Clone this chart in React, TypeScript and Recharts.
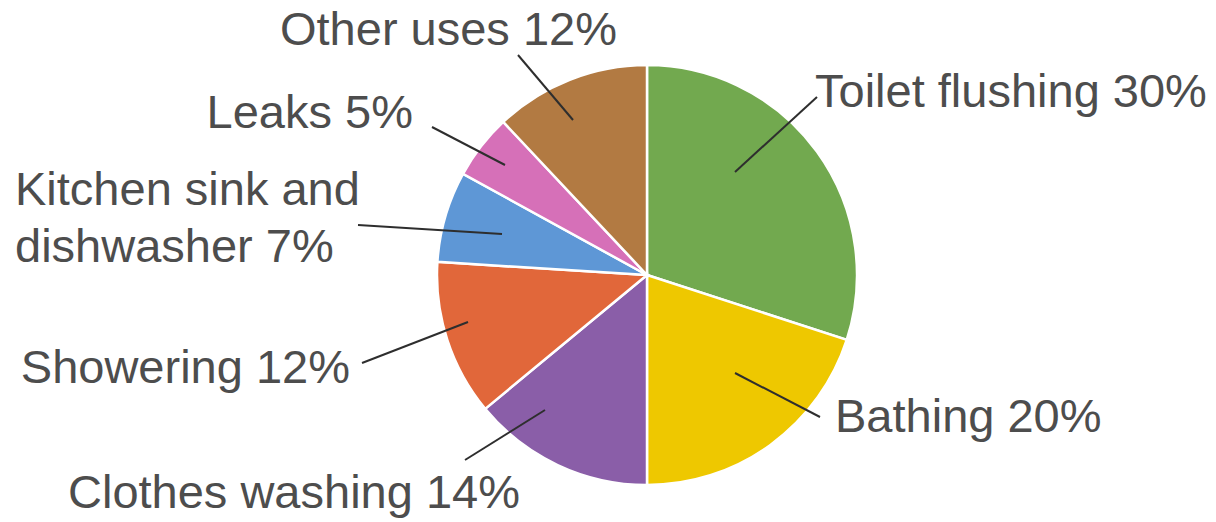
import React from "react";
import { PieChart, Pie, Cell } from "recharts";

const categories = [
  "Toilet flushing",
  "Bathing",
  "Clothes washing",
  "Showering",
  "Kitchen sink and dishwasher",
  "Leaks",
  "Other uses",
];
const values = [30, 20, 14, 12, 7, 5, 12];
const labelLines = [
  ["Toilet flushing 30%"],
  ["Bathing 20%"],
  ["Clothes washing 14%"],
  ["Showering 12%"],
  ["Kitchen sink and", "dishwasher 7%"],
  ["Leaks 5%"],
  ["Other uses 12%"],
];
const colors = ["#72a94f", "#eec800", "#8a5ea8", "#e1673a", "#5e97d6", "#d670b8", "#b27a42"];

// label placement relative to the pie centre: leader start, leader end, text anchor point
const labelLayout = [
  { p1: [88, -103], p2: [170, -178], t: [168, -168], anchor: "start" },
  { p1: [88, 98], p2: [173, 142], t: [188, 157], anchor: "start" },
  { p1: [-102, 135], p2: [-182, 185], t: [-127, 233], anchor: "end" },
  { p1: [-179, 47], p2: [-285, 88], t: [-297, 108], anchor: "end" },
  { p1: [-145, -41], p2: [-289, -50], t: [-632, -70], anchor: "start" },
  { p1: [-142, -110], p2: [-215, -148], t: [-234, -147], anchor: "end" },
  { p1: [-74, -155], p2: [-129, -220], t: [-30, -230], anchor: "end" },
];

const data = categories.map((name, i) => ({ name, value: values[i] }));

const FONT = "'Liberation Sans', Arial, Helvetica, sans-serif";

const renderLabel = (props: any) => {
  const { cx, cy, index } = props;
  const L = labelLayout[index];
  const lines = labelLines[index];
  return (
    <g key={`lbl-${index}`}>
      <line
        x1={cx + L.p1[0]}
        y1={cy + L.p1[1]}
        x2={cx + L.p2[0]}
        y2={cy + L.p2[1]}
        stroke="#2e2e2e"
        strokeWidth={2}
      />
      <text
        x={cx + L.t[0]}
        y={cy + L.t[1]}
        textAnchor={L.anchor as any}
        fill="#4d4d4d"
        fontSize={47}
        fontFamily={FONT}
      >
        {lines.map((ln, k) => (
          <tspan key={k} x={cx + L.t[0]} dy={k === 0 ? 0 : 57}>
            {ln}
          </tspan>
        ))}
      </text>
    </g>
  );
};

export default function App() {
  return (
    <div style={{ position: "absolute", left: 0, top: 0, width: 1216, height: 522, background: "#fff" }}>
      <PieChart width={1216} height={522} margin={{ top: 0, right: 0, bottom: 0, left: 0 }}>
        <Pie
          data={data}
          dataKey="value"
          nameKey="name"
          cx={647}
          cy={275}
          outerRadius={210}
          startAngle={90}
          endAngle={-270}
          stroke="#fff"
          strokeWidth={2.5}
          label={renderLabel}
          labelLine={false}
          isAnimationActive={false}
        >
          {data.map((d, i) => (
            <Cell key={d.name} fill={colors[i]} />
          ))}
        </Pie>
      </PieChart>
    </div>
  );
}
